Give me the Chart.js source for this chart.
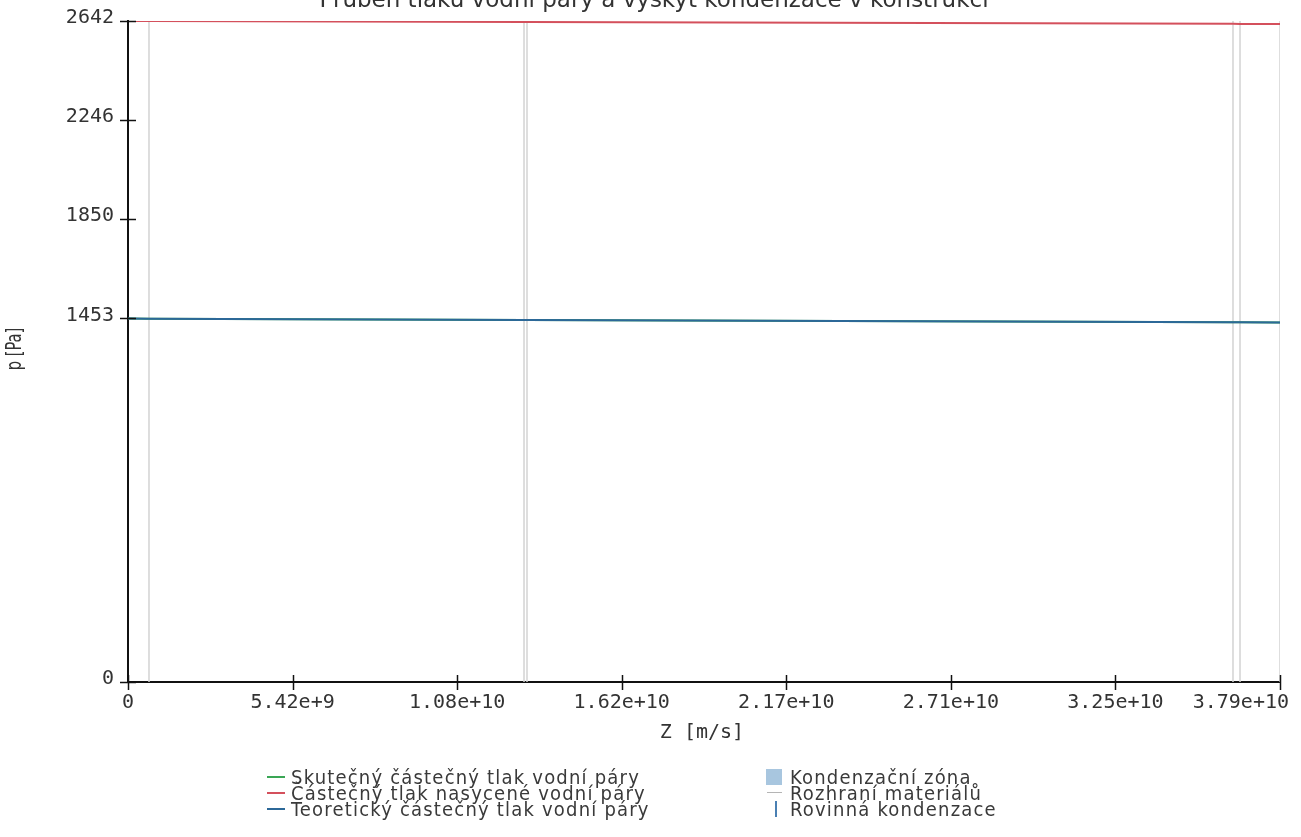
<!DOCTYPE html>
<html><head><meta charset="utf-8">
<script src="https://cdn.jsdelivr.net/npm/chart.js@4.4.1/dist/chart.umd.min.js"></script>
<style>
html,body{margin:0;padding:0;background:#fff;}
#wrap{position:relative;width:1301px;height:837px;overflow:hidden;background:#fff;}
#c{position:absolute;left:0;top:0;}
.lg{position:absolute;font-family:'DejaVu Sans Condensed','DejaVu Sans',sans-serif;font-size:20px;line-height:16px;height:16px;color:#3a3a3a;white-space:nowrap;}
.mk{position:absolute;}
</style></head>
<body>
<div id="wrap">
<canvas id="c" width="1301" height="837"></canvas>
</div>
<script>
// ---- data ----
const chartTitle = 'Průběh tlaku vodní páry a výskyt kondenzace v konstrukci';
const xAxisTitle = 'Z [m/s]';
const yAxisTitle = 'p [Pa]';
const xTickValues = [0, 5.416e9, 1.0832e10, 1.6248e10, 2.1664e10, 2.708e10, 3.2496e10, 3.7912e10];
const xTickLabels = ['0', '5.42e+9', '1.08e+10', '1.62e+10', '2.17e+10', '2.71e+10', '3.25e+10', '3.79e+10'];
const yTickValues = [0, 1453, 1850, 2246, 2642];
const yTickLabels = ['0', '1453', '1850', '2246', '2642'];
const zPositions = [0, 6.91e8, 1.3033e10, 1.3131e10, 3.6365e10, 3.6596e10, 3.7912e10];
const saturatedPressure = [2642, 2642, 2638, 2638, 2631, 2630, 2630];
const theoreticalPressure = [1453, 1452, 1447, 1447, 1438, 1437.5, 1437];
const actualPressure = [1453, 1452, 1447, 1447, 1438, 1437.5, 1437];
const materialInterfaces = [6.91e8, 1.3033e10, 1.3131e10, 3.6365e10, 3.6596e10, 3.7912e10];
const legendLeft = ['Skutečný částečný tlak vodní páry', 'Částečný tlak nasycené vodní páry', 'Teoretický částečný tlak vodní páry'];
const legendRight = ['Kondenzační zóna', 'Rozhraní materiálů', 'Rovinná kondenzace'];

const X_MAX = 3.7912e10, Y_MAX = 2642;
const toPts = (xs, ys) => xs.map((x, i) => ({x: x, y: ys[i]}));
const ifacePts = [];
materialInterfaces.forEach(z => { ifacePts.push({x: z, y: 0}, {x: z, y: Y_MAX}, {x: z, y: null}); });

const MONO = "'DejaVu Sans Mono', monospace";
const customDraw = {
  id: 'customDraw',
  beforeDraw(chart) {
    const ctx = chart.ctx;
    ctx.save(); ctx.fillStyle = '#fff'; ctx.fillRect(0, 0, chart.width, chart.height); ctx.restore();
  },
  afterDraw(chart) {
    const ctx = chart.ctx, xs = chart.scales.x, ys = chart.scales.y;
    const ax = chart.chartArea.left, ay = chart.chartArea.bottom;
    ctx.save();
    // title
    ctx.fillStyle = '#333';
    ctx.font = "23px 'DejaVu Sans', sans-serif";
    ctx.textAlign = 'center'; ctx.textBaseline = 'alphabetic';
    ctx.fillText(chartTitle, 654, 7);
    // tick marks
    ctx.strokeStyle = '#111'; ctx.lineWidth = 1.5;
    yTickValues.forEach(v => { const p = Math.round(ys.getPixelForValue(v)) + 0.5; ctx.beginPath(); ctx.moveTo(ax - 8, p); ctx.lineTo(ax + 8, p); ctx.stroke(); });
    xTickValues.forEach(v => { const p = Math.round(xs.getPixelForValue(v)) + 0.5; ctx.beginPath(); ctx.moveTo(p, ay - 7); ctx.lineTo(p, ay + 8); ctx.stroke(); });
    // tick labels
    ctx.fillStyle = '#333';
    ctx.font = '20px ' + MONO;
    ctx.textBaseline = 'middle';
    ctx.textAlign = 'right';
    yTickValues.forEach((v, i) => ctx.fillText(yTickLabels[i], 114, ys.getPixelForValue(v) - 3));
    ctx.textAlign = 'center';
    xTickValues.forEach((v, i) => {
      const w = ctx.measureText(xTickLabels[i]).width;
      let cx = xs.getPixelForValue(v);
      cx = Math.min(cx, 1289 - w / 2);
      ctx.fillText(xTickLabels[i], cx, 703);
    });
    // axis titles
    ctx.fillText(xAxisTitle, 702, 733);
    ctx.translate(16, 349); ctx.rotate(-Math.PI / 2); ctx.scale(0.7, 1);
    ctx.font = "21px 'DejaVu Sans', sans-serif";
    ctx.fillText(yAxisTitle, 0, 0);
    ctx.restore();
  }
};

new Chart(document.getElementById('c'), {
  type: 'line',
  data: {
    datasets: [
      {label: legendLeft[2], data: toPts(zPositions, theoreticalPressure), borderColor: '#2c6898', borderWidth: 2, pointRadius: 0},
      {label: legendLeft[1], data: toPts(zPositions, saturatedPressure), borderColor: '#d4505c', borderWidth: 2, pointRadius: 0},
      {label: legendLeft[0], data: toPts(zPositions, actualPressure), borderColor: '#3aa655', borderWidth: 2, pointRadius: 0},
      {label: legendRight[1], data: ifacePts, borderColor: '#d3d3d3', borderWidth: 1.5, pointRadius: 0, spanGaps: false}
    ]
  },
  options: {
    responsive: false, animation: false, devicePixelRatio: 1,
    layout: {padding: {top: 21, right: 21, left: 0, bottom: 0}},
    plugins: {legend: {display: false}, tooltip: {enabled: false}, title: {display: false}},
    scales: {
      x: {type: 'linear', min: 0, max: X_MAX,
        grid: {display: false}, ticks: {display: false},
        border: {display: true, color: '#111', width: 2},
        afterBuildTicks: s => { s.ticks = xTickValues.map(v => ({value: v})); },
        afterFit: s => { s.height = 155; }},
      y: {type: 'linear', min: 0, max: Y_MAX,
        grid: {display: false}, ticks: {display: false},
        border: {display: true, color: '#111', width: 2},
        afterBuildTicks: s => { s.ticks = yTickValues.map(v => ({value: v})); },
        afterFit: s => { s.width = 128; }}
    }
  },
  plugins: [customDraw]
});

// ---- HTML legend ----
const wrap = document.getElementById('wrap');
const rowY = [777, 793, 809];
const leftColors = ['#3aa655', '#d4505c', '#2c6898'];
const mctx = document.createElement('canvas').getContext('2d');
mctx.font = "20px 'DejaVu Sans Condensed'";
const baseW = mctx.measureText(legendLeft[0]).width;
const spacing = Math.min(1.2, Math.max(0, (362 - baseW) / legendLeft[0].length));
legendLeft.forEach((t, i) => {
  const m = document.createElement('div'); m.className = 'mk';
  Object.assign(m.style, {left: '267px', top: (rowY[i] - 1) + 'px', width: '18px', height: '2px', background: leftColors[i]});
  wrap.appendChild(m);
  const d = document.createElement('div'); d.className = 'lg'; d.textContent = t;
  Object.assign(d.style, {left: '291px', top: (rowY[i] - 8) + 'px', letterSpacing: spacing + 'px'});
  wrap.appendChild(d);
});
const rm = [
  {left: 766, top: rowY[0] - 8, width: 16, height: 16, background: '#a8c6df'},
  {left: 767, top: rowY[1] - 1, width: 15, height: 1, background: '#b5b5b5'},
  {left: 775, top: rowY[2] - 8, width: 2, height: 16, background: '#4a80b3'}
];
legendRight.forEach((t, i) => {
  const m = document.createElement('div'); m.className = 'mk';
  const s = rm[i];
  Object.assign(m.style, {left: s.left + 'px', top: s.top + 'px', width: s.width + 'px', height: s.height + 'px', background: s.background});
  wrap.appendChild(m);
  const d = document.createElement('div'); d.className = 'lg'; d.textContent = t;
  Object.assign(d.style, {left: '790px', top: (rowY[i] - 8) + 'px', letterSpacing: spacing + 'px'});
  wrap.appendChild(d);
});
</script>
</body></html>
